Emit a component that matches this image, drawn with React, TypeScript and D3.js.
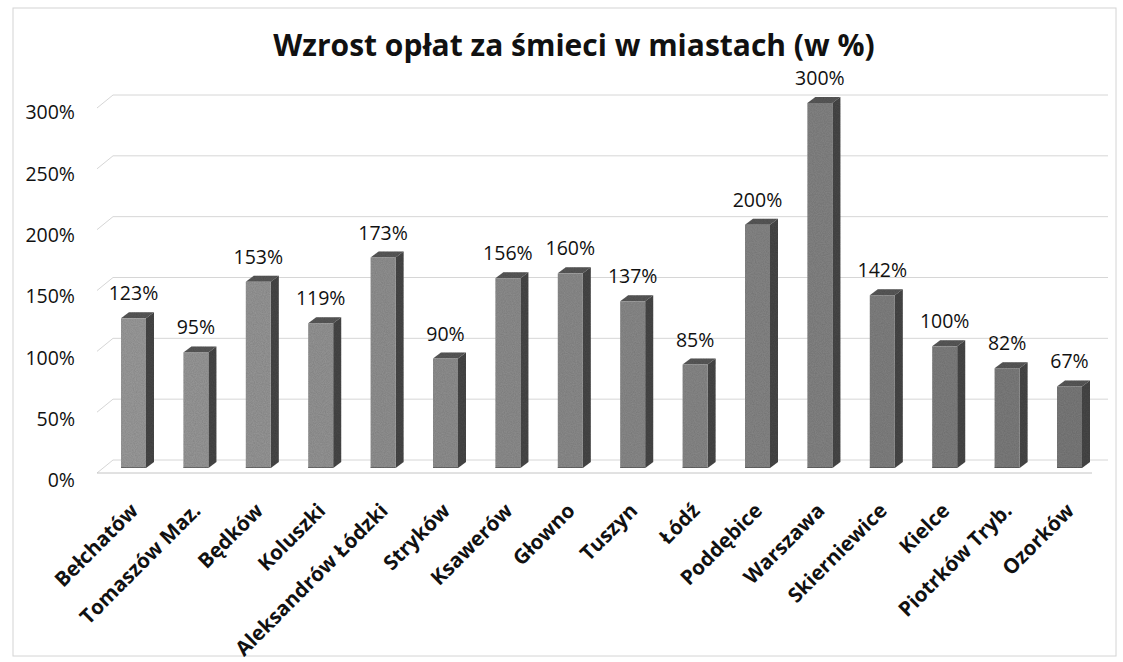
import { useMemo } from "react";
import * as d3 from "d3";

// data
const cities = [
  "Bełchatów",
  "Tomaszów Maz.",
  "Będków",
  "Koluszki",
  "Aleksandrów Łódzki",
  "Stryków",
  "Ksawerów",
  "Głowno",
  "Tuszyn",
  "Łódź",
  "Poddębice",
  "Warszawa",
  "Skierniewice",
  "Kielce",
  "Piotrków Tryb.",
  "Ozorków",
];
const increase = [123, 95, 153, 119, 173, 90, 156, 160, 137, 85, 200, 300, 142, 100, 82, 67];
const yTicks = [0, 50, 100, 150, 200, 250, 300];
const title = "Wzrost opłat za śmieci w miastach (w %)";

const width = 1123;
const height = 662;
const barW = 25;
const depthX = 8;
const depthY = -6;
const font = "'Open Sans', 'Noto Sans', sans-serif";

const App = () => {
  const xScale = d3
    .scalePoint<string>()
    .domain(cities)
    .range([133.5, 1069.5]);

  const yScale = d3.scaleLinear().domain([0, 300]).range([468, 103]);
  // tick labels sit on the wall plane, slightly offset from bars
  const yLabel = d3.scaleLinear().domain([0, 300]).range([482, 114]);

  const shade = useMemo(
    () => d3.scaleLinear<string>().domain([0, cities.length - 1]).range(["#9c9c9c", "#7c7c7c"]),
    []
  );

  return (
    <svg
      width={width}
      height={height}
      viewBox={`0 0 ${width} ${height}`}
      style={{ position: "absolute", left: 0, top: 0, background: "#fff" }}
    >
      <defs>
        <filter id="grain" x="0" y="0" width="100%" height="100%">
          <feTurbulence type="fractalNoise" baseFrequency="0.9" numOctaves="2" seed="3" result="n" />
          <feColorMatrix
            in="n"
            type="matrix"
            values="0 0 0 0 0  0 0 0 0 0  0 0 0 0 0  0 0 0 0.3 0"
            result="dots"
          />
          <feComposite in="dots" in2="SourceGraphic" operator="in" result="clip" />
          <feMerge>
            <feMergeNode in="SourceGraphic" />
            <feMergeNode in="clip" />
          </feMerge>
        </filter>
      </defs>

      {/* outer frame */}
      <rect x={13} y={8} width={1103} height={648} fill="none" stroke="#d4d4d4" strokeWidth={1} />

      {/* title */}
      <text
        x={574}
        y={56}
        textAnchor="middle"
        fontFamily={font}
        fontWeight={700}
        fontSize={30}
        fill="#111"
      >
        {title}
      </text>

      {/* back wall gridlines */}
      <g className="grid" stroke="#d6d6d6" strokeWidth={1} fill="none">
        {yTicks.map((t) => {
          const gy = yScale(t) - 8;
          return (
            <g key={t}>
              <line x1={97} y1={gy + 13} x2={113} y2={gy} />
              <line x1={113} y1={gy} x2={1108} y2={gy} />
            </g>
          );
        })}
        {/* floor front edge */}
        <line x1={97} y1={yScale(0) + 5} x2={1092} y2={yScale(0) + 5} stroke="#c4c4c4" />
      </g>

      {/* y axis labels */}
      <g className="y-axis">
        {yTicks.map((t) => (
          <text
            key={t}
            x={75}
            y={yLabel(t)}
            textAnchor="end"
            dominantBaseline="middle"
            fontFamily={font}
            fontSize={19.5}
            fill="#111"
          >
            {`${t}%`}
          </text>
        ))}
      </g>

      {/* 3D bars */}
      <g className="bars" filter="url(#grain)">
        {cities.map((c, i) => {
          const cx = xScale(c) as number;
          const x0 = cx - barW / 2;
          const x1 = cx + barW / 2;
          const yTop = yScale(increase[i]);
          const yBot = yScale(0);
          const front = shade(i);
          return (
            <g key={c}>
              <path
                d={`M${x1},${yTop}L${x1 + depthX},${yTop + depthY}L${x1 + depthX},${yBot + depthY}L${x1},${yBot}Z`}
                fill="#484848"
              />
              <path
                d={`M${x0},${yTop}L${x0 + depthX},${yTop + depthY}L${x1 + depthX},${yTop + depthY}L${x1},${yTop}Z`}
                fill="#5a5a5a"
              />
              <rect x={x0} y={yTop} width={barW} height={yBot - yTop} fill={front} />
              <line x1={x0} y1={yBot} x2={x1} y2={yBot} stroke="#444" />
            </g>
          );
        })}
      </g>

      {/* data labels */}
      <g className="labels">
        {cities.map((c, i) => (
          <text
            key={c}
            x={xScale(c) as number}
            y={yScale(increase[i]) - 18}
            textAnchor="middle"
            fontFamily={font}
            fontSize={19.5}
            fill="#111"
          >
            {`${increase[i]}%`}
          </text>
        ))}
      </g>

      {/* category labels */}
      <g className="x-axis">
        {cities.map((c) => {
          const ax = (xScale(c) as number) + 6;
          const ay = 512;
          return (
            <text
              key={c}
              transform={`translate(${ax},${ay}) rotate(-45)`}
              textAnchor="end"
              fontFamily={font}
              fontWeight={700}
              fontSize={20.5}
              fill="#111"
            >
              {c}
            </text>
          );
        })}
      </g>
    </svg>
  );
};

export default App;
